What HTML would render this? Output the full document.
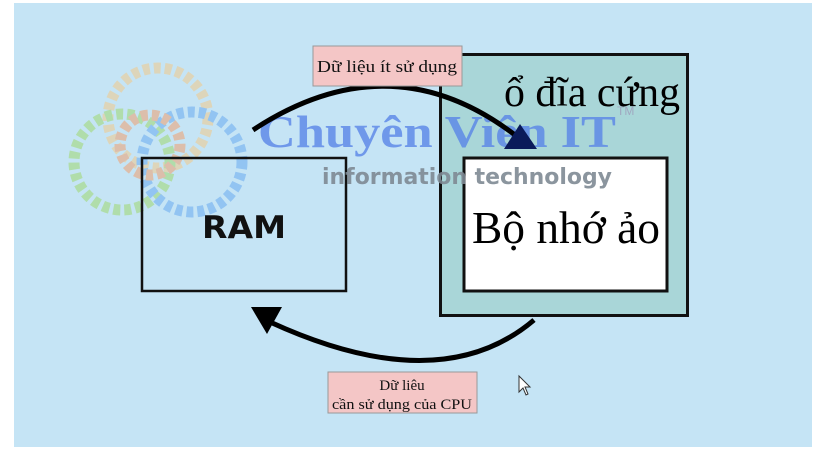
<!DOCTYPE html>
<html><head><meta charset="utf-8"><style>
html,body{margin:0;padding:0;background:#fff;}
svg{display:block}
</style></head><body>
<svg width="820" height="450" viewBox="0 0 820 450" xmlns="http://www.w3.org/2000/svg">
<rect x="14" y="3" width="798" height="444" fill="#c5e4f5"/>
<g fill="none" stroke-width="11" stroke-dasharray="7 4" opacity="0.55">
<circle cx="158" cy="118" r="50" stroke="#f2c98a"/>
<circle cx="122" cy="162" r="48" stroke="#9fd870"/>
<circle cx="192" cy="162" r="50" stroke="#6aaaf0"/>
<circle cx="150" cy="145" r="30" stroke="#f0a070"/>
</g>
<rect x="440.5" y="54.5" width="247" height="261" fill="#a9d6d8" stroke="#111" stroke-width="3"/>
<rect x="464" y="158" width="203" height="133" fill="#fff" stroke="#111" stroke-width="3"/>
<rect x="142" y="158" width="204" height="133" fill="none" stroke="#111" stroke-width="2.5"/>
<text x="244" y="238" font-family="'DejaVu Sans',sans-serif" font-weight="bold" font-size="31" text-anchor="middle" fill="#111" textLength="84" lengthAdjust="spacingAndGlyphs">RAM</text>
<text x="566" y="243" font-family="'Liberation Serif',serif" font-size="46" text-anchor="middle" fill="#000" textLength="188" lengthAdjust="spacingAndGlyphs">Bộ nhớ ảo</text>
<text x="592" y="106" font-family="'Liberation Serif',serif" font-size="42" text-anchor="middle" fill="#000" textLength="176" lengthAdjust="spacingAndGlyphs">ổ đĩa cứng</text>
<text x="258" y="147" font-family="'Liberation Serif',serif" font-weight="bold" font-size="46" fill="#5a86e8" opacity="0.8" textLength="358" lengthAdjust="spacingAndGlyphs">Chuyên Viên IT</text>
<text x="617" y="115" font-family="'Liberation Sans',sans-serif" font-size="12" fill="#a0a8c0">TM</text>
<text x="322" y="184" font-family="'DejaVu Sans',sans-serif" font-weight="bold" font-size="22" fill="#7f8a94" opacity="0.9" textLength="290" lengthAdjust="spacingAndGlyphs">information technology</text>
<path d="M253 130 Q390 40 515 135" fill="none" stroke="#000" stroke-width="5"/>
<polygon points="504,149 537,149 520,124" fill="#0a1a5a"/>
<path d="M534 320 Q440 400 270 322" fill="none" stroke="#000" stroke-width="5"/>
<polygon points="251,307 282,307 267,334" fill="#000"/>
<rect x="313" y="46" width="149" height="40" fill="#f4c6c6" stroke="#999" stroke-width="1"/>
<text x="387" y="72" font-family="'Liberation Serif',serif" font-size="17" text-anchor="middle" fill="#111" textLength="140" lengthAdjust="spacingAndGlyphs">Dữ liệu ít sử dụng</text>
<rect x="328" y="372" width="149" height="41" fill="#f4c6c6" stroke="#999" stroke-width="1"/>
<text x="402" y="390" font-family="'Liberation Serif',serif" font-size="15" text-anchor="middle" fill="#111">Dữ liêu</text>
<text x="402" y="409" font-family="'Liberation Serif',serif" font-size="15" text-anchor="middle" fill="#111" textLength="140" lengthAdjust="spacingAndGlyphs">cần sử dụng của CPU</text>
<polygon points="519,376 519,392 523,388 526,395 528,394 525,387 530,387" fill="#fff" stroke="#333" stroke-width="1"/>
</svg>
</body></html>
